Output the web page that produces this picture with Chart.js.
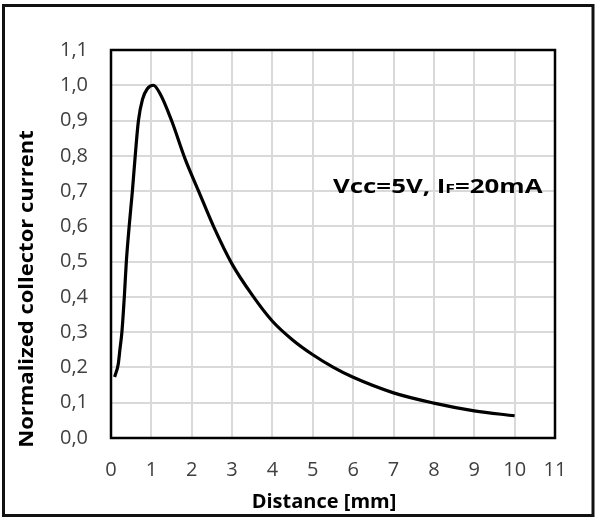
<!DOCTYPE html>
<html>
<head>
<meta charset="utf-8">
<script src="https://cdn.jsdelivr.net/npm/chart.js@4.4.1/dist/chart.umd.min.js"></script>
<style>
  html, body { margin: 0; padding: 0; background: #fff; }
  #wrap { position: relative; width: 596px; height: 518px; }
</style>
</head>
<body>
<div id="wrap"><canvas id="chart" width="596" height="518"></canvas></div>
<script>
// distance [mm] vs normalized collector current
const distance = [0.09, 0.18, 0.22, 0.27, 0.33, 0.38, 0.45, 0.53, 0.60, 0.68, 0.78, 0.90, 1.05, 1.22, 1.5, 1.84, 2.17, 2.54, 3.0, 3.5, 4.0, 4.5, 5.0, 5.5, 6.0, 7.0, 8.0, 9.0, 10.0]
const current = [0.173, 0.21, 0.25, 0.30, 0.40, 0.50, 0.60, 0.70, 0.80, 0.90, 0.96, 0.99, 1.00, 0.975, 0.90, 0.79, 0.70, 0.60, 0.493, 0.405, 0.331, 0.278, 0.236, 0.201, 0.172, 0.128, 0.099, 0.077, 0.063]

const xTicks = [0, 1, 2, 3, 4, 5, 6, 7, 8, 9, 10, 11]
const yTicks = ['0,0', '0,1', '0,2', '0,3', '0,4', '0,5', '0,6', '0,7', '0,8', '0,9', '1,0', '1,1']

const xTitle = 'Distance [mm]'
const yTitle = 'Normalized collector current'
const noteAt = { x: 5.5, y: 0.695 }

const FONT = "'Open Sans', 'Noto Sans', sans-serif"

const points = distance.map((d, i) => ({ x: d, y: current[i] }))

// frame, plot box, axis titles and the note
const decorations = {
  id: 'decorations',
  afterDraw(chart) {
    const ctx = chart.ctx
    const a = chart.chartArea
    const xs = chart.scales.x
    const ys = chart.scales.y
    ctx.save()
    ctx.strokeStyle = '#000'
    ctx.lineWidth = 2.5
    ctx.strokeRect(a.left, a.top, a.right - a.left, a.bottom - a.top)

    ctx.strokeStyle = '#111'
    ctx.lineWidth = 3
    ctx.strokeRect(3.5, 5.5, 589.5, 510)

    ctx.fillStyle = '#000'
    ctx.font = 'bold 20px ' + FONT
    ctx.textAlign = 'center'
    ctx.textBaseline = 'alphabetic'
    ctx.fillText(xTitle, 324, 508)

    ctx.save()
    ctx.translate(33, 289)
    ctx.rotate(-Math.PI / 2)
    ctx.scale(1.1, 1)
    ctx.fillText(yTitle, 0, 0)
    ctx.restore()

    // Vcc=5V, IF=20mA with a small F, stretched a little like the original
    const px = xs.getPixelForValue(noteAt.x)
    const py = ys.getPixelForValue(noteAt.y)
    ctx.save()
    ctx.translate(px, py)
    ctx.scale(1.36, 1)
    ctx.textAlign = 'left'
    let cx = 0
    const parts = [['Vcc=5V, I', 19], ['F', 13], ['=20mA', 19]]
    parts.forEach(([t, size]) => {
      ctx.font = 'bold ' + size + 'px ' + FONT
      ctx.fillText(t, cx, 0)
      cx += ctx.measureText(t).width
    })
    ctx.restore()
    ctx.restore()
  }
}

new Chart(document.getElementById('chart'), {
  type: 'scatter',
  data: {
    datasets: [{
      data: points,
      showLine: true,
      borderColor: '#000',
      borderWidth: 3.2,
      pointRadius: 0,
      cubicInterpolationMode: 'monotone'
    }]
  },
  options: {
    responsive: false,
    animation: false,
    layout: { padding: { left: 0, top: 50, right: 41, bottom: 0 } },
    plugins: { legend: { display: false }, tooltip: { enabled: false } },
    scales: {
      x: {
        type: 'linear',
        min: 0,
        max: 11,
        afterFit(s) { s.height = 80 },
        afterBuildTicks(s) { s.ticks = xTicks.map(v => ({ value: v })) },
        ticks: {
          color: '#404040',
          font: { family: FONT, size: 20 },
          padding: 20,
          maxRotation: 0
        },
        grid: { color: '#d9d9d9', lineWidth: 2, drawTicks: false },
        border: { display: false }
      },
      y: {
        min: 0,
        max: 1.1,
        afterFit(s) { s.width = 111 },
        afterBuildTicks(s) { s.ticks = yTicks.map((t, i) => ({ value: i / 10 })) },
        ticks: {
          color: '#404040',
          font: { family: FONT, size: 20 },
          padding: 23,
          callback: (v, i) => yTicks[i]
        },
        grid: { color: '#d9d9d9', lineWidth: 2, drawTicks: false },
        border: { display: false }
      }
    }
  },
  plugins: [decorations]
})
</script>
</body>
</html>
